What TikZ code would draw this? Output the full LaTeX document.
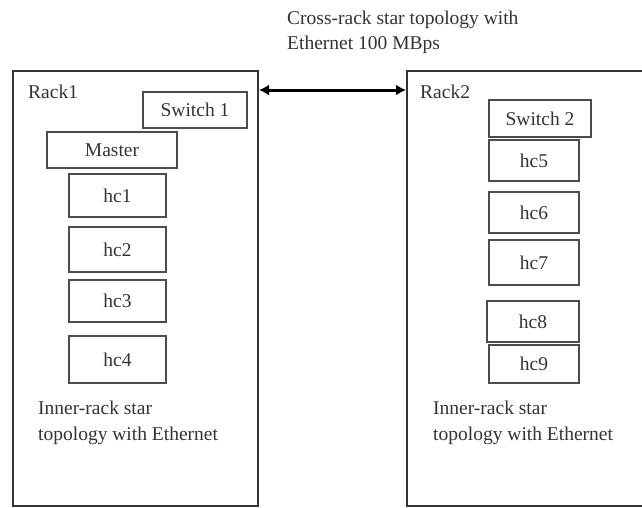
\documentclass[tikz,border=0pt]{standalone}
\usepackage{fontspec}
\setmainfont{Liberation Serif}
\usetikzlibrary{arrows.meta}
\begin{document}
\begin{tikzpicture}[x=1pt,y=-1pt,
  every node/.style={font=\fontsize{19.5}{25.5}\selectfont, text=black!80},
  rackbox/.style={draw=black!80, line width=2pt, minimum width=#1, minimum height=435pt, inner sep=0pt},
  hostbox/.style={draw=black!70, line width=1.3pt, inner sep=0pt},
  lbl/.style={anchor=west, align=left, inner sep=0pt}
]
\useasboundingbox (0,0) rectangle (642,507);
\clip (0,0) rectangle (642,507);
% racks
\node[rackbox=245pt] (rack1) at (135.5,288.5) {};
\node[rackbox=260pt] (rack2) at (537,288.5) {};
% labels
\node[lbl] (title) at (287,32.5) {Cross-rack star topology with\\Ethernet 100 MBps};
\node[lbl] (r1) at (28,92) {Rack1};
\node[lbl] (r2) at (420,92) {Rack2};
\node[lbl] (in1) at (38,423) {Inner-rack star\\topology with Ethernet};
\node[lbl] (in2) at (433,423) {Inner-rack star\\topology with Ethernet};
% rack 1 boxes
\node[hostbox, minimum width=104pt, minimum height=36pt] (sw1) at (195,110) {Switch 1};
\node[hostbox, minimum width=130pt, minimum height=36pt] (master) at (112,150) {Master};
\node[hostbox, minimum width=97pt, minimum height=43pt] (hc1) at (117.5,195.5) {hc1};
\node[hostbox, minimum width=97pt, minimum height=45pt] (hc2) at (117.5,249.5) {hc2};
\node[hostbox, minimum width=97pt, minimum height=42pt] (hc3) at (117.5,301) {hc3};
\node[hostbox, minimum width=97pt, minimum height=47pt] (hc4) at (117.5,359.5) {hc4};
% rack 2 boxes
\node[hostbox, minimum width=102pt, minimum height=37pt] (sw2) at (540,118.5) {Switch 2};
\node[hostbox, minimum width=90pt, minimum height=41pt] (hc5) at (534,160.5) {hc5};
\node[hostbox, minimum width=90pt, minimum height=41pt] (hc6) at (534,212.5) {hc6};
\node[hostbox, minimum width=90pt, minimum height=45pt] (hc7) at (534,262.5) {hc7};
\node[hostbox, minimum width=92pt, minimum height=41pt] (hc8) at (533,321.5) {hc8};
\node[hostbox, minimum width=90pt, minimum height=38pt] (hc9) at (534,364) {hc9};
% cross-rack link
\draw[line width=3pt, {Latex[length=10pt,width=11pt]}-{Latex[length=10pt,width=11pt]}]
  ([yshift=-20pt]rack1.north east) -- ([yshift=-20pt]rack2.north west);
\end{tikzpicture}
\end{document}
